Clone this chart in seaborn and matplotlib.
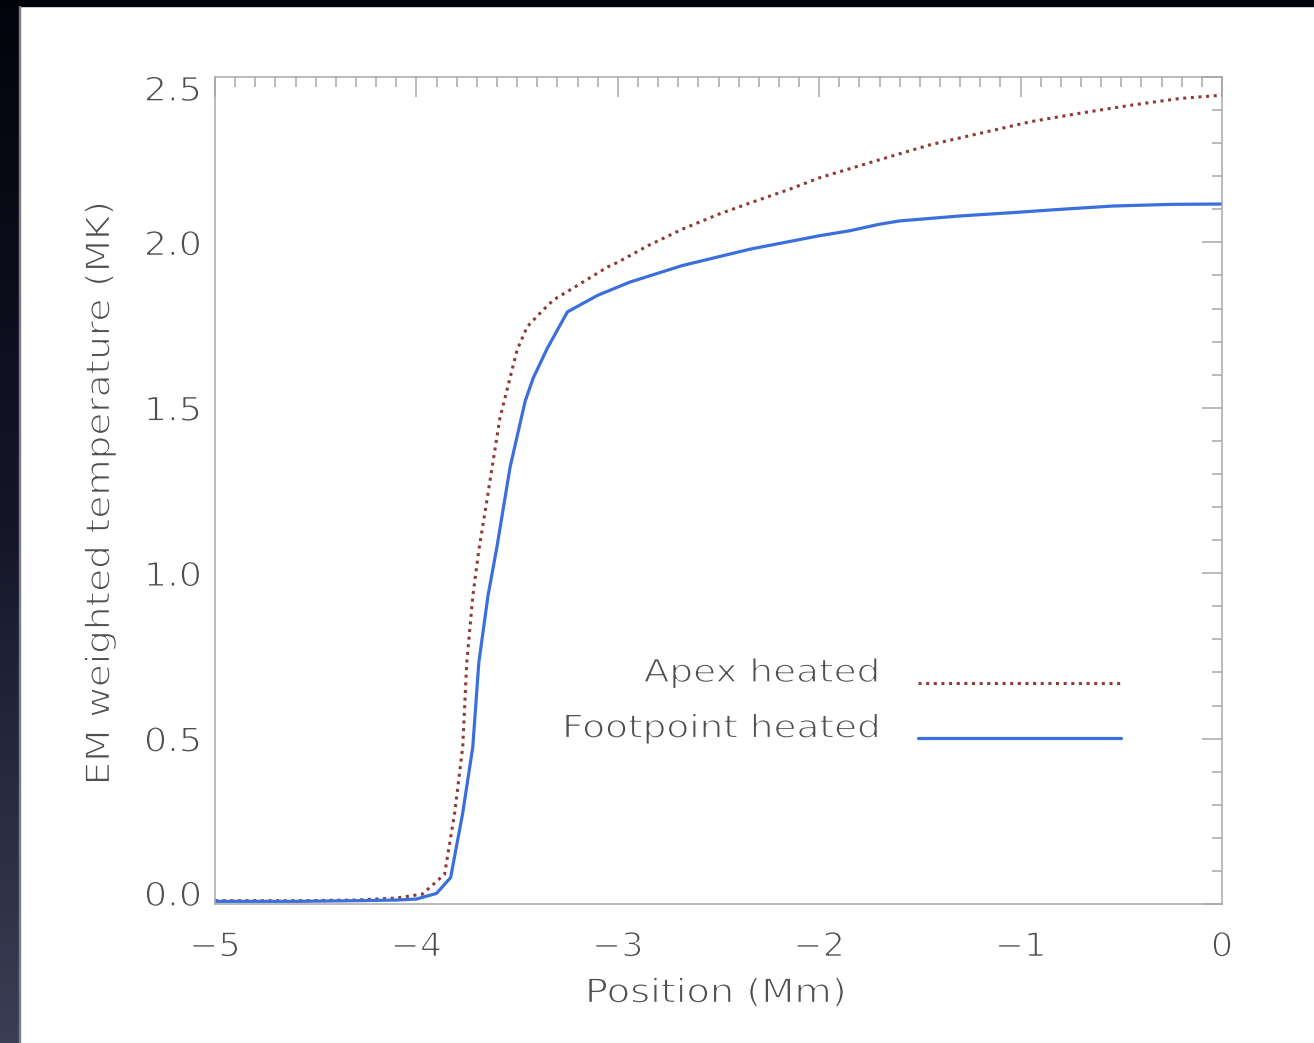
import numpy as np
import pandas as pd
import matplotlib
matplotlib.use("Agg")
import matplotlib.pyplot as plt
import seaborn as sns
from matplotlib.transforms import ScaledTranslation, Affine2D
from matplotlib.lines import Line2D
from matplotlib.patheffects import AbstractPathEffect
from matplotlib.legend_handler import HandlerLine2D

# ---- data ----
pos_apex = [-5.0, -4.6, -4.3, -4.1, -3.97, -3.86, -3.81, -3.77, -3.75, -3.72,
            -3.69, -3.65, -3.585, -3.50, -3.45, -3.38, -3.32, -3.2, -3.05, -3.0,
            -2.85, -2.68, -2.5, -2.34, -2.15, -2.0, -1.7, -1.45, -1.2, -0.95,
            -0.71, -0.45, -0.21, 0.0]
temp_apex = [0.01, 0.01, 0.012, 0.018, 0.03, 0.09, 0.275, 0.475, 0.73, 0.93,
             1.07, 1.22, 1.47, 1.675, 1.745, 1.79, 1.826, 1.87, 1.926, 1.94,
             1.99, 2.04, 2.085, 2.12, 2.16, 2.195, 2.25, 2.295, 2.33, 2.365,
             2.39, 2.415, 2.435, 2.445]

pos_foot = [-5.0, -4.6, -4.3, -4.1, -4.0, -3.9, -3.83, -3.77, -3.72, -3.69,
            -3.645, -3.6, -3.535, -3.46, -3.42, -3.35, -3.25, -3.1, -2.94, -2.68,
            -2.34, -2.0, -1.85, -1.70, -1.6, -1.5, -1.3, -1.04, -0.8, -0.54,
            -0.25, 0.0]
temp_foot = [0.008, 0.008, 0.01, 0.012, 0.015, 0.032, 0.08, 0.275, 0.475, 0.73,
             0.93, 1.08, 1.32, 1.52, 1.59, 1.68, 1.79, 1.84, 1.88, 1.93,
             1.98, 2.02, 2.035, 2.055, 2.065, 2.07, 2.08, 2.09, 2.10, 2.11,
             2.115, 2.116]

series_names = ["Apex heated", "Footpoint heated"]
x_ticks = [-5, -4, -3, -2, -1, 0]
x_ticklabels = ["\u22125", "\u22124", "\u22123", "\u22122", "\u22121", "0"]
y_ticks = [0.0, 0.5, 1.0, 1.5, 2.0, 2.5]
y_ticklabels = ["0.0", "0.5", "1.0", "1.5", "2.0", "2.5"]
x_label = "Position (Mm)"
y_label = "EM weighted temperature (MK)"

df_apex = pd.DataFrame({"pos": pos_apex, "temp": temp_apex})
df_foot = pd.DataFrame({"pos": pos_foot, "temp": temp_foot})


# ---- text effect: wider, thinner glyphs (mimic IDL vector font) ----
class ThinWide(AbstractPathEffect):
    def __init__(self, sx=1.12, erode=1.0, anchor="center"):
        super().__init__()
        self.sx = sx
        self.erode = erode
        self.anchor = anchor

    def draw_path(self, renderer, gc, tpath, affine, rgbFace=None):
        ext = tpath.get_extents()
        if self.anchor == "right":
            cx = ext.x1
        else:
            cx = 0.5 * (ext.x0 + ext.x1)
        pre = Affine2D().translate(-cx, 0).scale(self.sx, 1).translate(cx, 0)
        aff = pre + affine
        renderer.draw_path(gc, tpath, aff, rgbFace)
        gc0 = renderer.new_gc()
        gc0.copy_properties(gc)
        gc0.set_foreground("white")
        gc0.set_linewidth(self.erode)
        renderer.draw_path(gc0, tpath, aff, None)
        gc0.restore()


class LowLineHandler(HandlerLine2D):
    def __init__(self, shift=0.37, **kw):
        super().__init__(**kw)
        self.shift = shift

    def create_artists(self, legend, orig_handle, xdescent, ydescent, width,
                       height, fontsize, trans):
        arts = super().create_artists(legend, orig_handle, xdescent, ydescent,
                                      width, height, fontsize, trans)
        for a in arts:
            if isinstance(a, Line2D):
                a.set_ydata(np.asarray(a.get_ydata(), dtype=float) - self.shift * fontsize)
        return arts


# ---- style ----
sns.set_style("white")
plt.rcParams["font.family"] = ["DejaVu Sans"]
text_color = "#505050"
axis_color = "#a8a8a8"
apex_color = "#8e3b36"
foot_color = "#3b6fdc"
dot_style = (0, (1, 1.5))

W, H = 1314, 1043
fig = plt.figure(figsize=(W / 100, H / 100), dpi=100, facecolor="white")

# slide-like dark margins
bg = fig.add_axes([0, 0, 20 / W, 1])
grad = np.linspace(0, 1, 256).reshape(-1, 1)
cmap = matplotlib.colors.LinearSegmentedColormap.from_list("g", ["#03030c", "#141628", "#3b3e54"])
bg.imshow(grad, aspect="auto", cmap=cmap, extent=[0, 1, 0, 1], origin="upper")
bg.set_axis_off()
fig.patches.append(matplotlib.patches.Rectangle((0, 1 - 6 / H), 1, 6 / H,
                   transform=fig.transFigure, color="#02020a", zorder=5))
fig.patches.append(matplotlib.patches.Rectangle((19 / W, 0), 1.2 / W, 1 - 6 / H,
                   transform=fig.transFigure, color="#7a7c88", zorder=5))

ax = fig.add_axes([215 / W, (H - 904) / H, 1007 / W, 827 / H])

sns.lineplot(data=df_apex, x="pos", y="temp", ax=ax, color=apex_color,
             linewidth=2.2, estimator=None, sort=False)
ax.lines[-1].set_linestyle(dot_style)
sns.lineplot(data=df_foot, x="pos", y="temp", ax=ax, color=foot_color,
             linewidth=2.3, estimator=None, sort=False)

ax.set_xlim(-5, 0)
ax.set_ylim(0, 2.5)
ax.set_xticks(x_ticks)
ax.set_xticklabels(x_ticklabels)
ax.set_yticks(y_ticks)
ax.set_yticklabels(y_ticklabels)
ax.xaxis.set_minor_locator(matplotlib.ticker.MultipleLocator(0.1))
ax.yaxis.set_minor_locator(matplotlib.ticker.MultipleLocator(0.1))
ax.tick_params(which="both", direction="in", top=True, right=True,
               color=axis_color, width=1.1)
ax.tick_params(which="major", length=14.5)
ax.tick_params(which="minor", length=7.5)
ax.tick_params(axis="x", which="major", pad=19, labelsize=24, labelcolor=text_color)
ax.tick_params(axis="y", which="major", pad=11, labelsize=24, labelcolor=text_color)
for s in ax.spines.values():
    s.set_color(axis_color)
    s.set_linewidth(1.1)

ax.set_xlabel(x_label, fontsize=24, color=text_color, va="center")
ax.xaxis.set_label_coords((716 - 215) / 1007, (904 - 993) / 827)
ax.set_ylabel(y_label, fontsize=24, color=text_color, va="center")
ax.yaxis.set_label_coords((100 - 215) / 1007, (904 - 493) / 827)

handles = [Line2D([], [], color=apex_color, linewidth=2.2, linestyle=dot_style),
           Line2D([], [], color=foot_color, linewidth=2.3)]
leg = ax.legend(handles, series_names, markerfirst=False, frameon=False,
                loc="upper right", bbox_to_anchor=((1121 - 215) / 1007, (904 - 658) / 827),
                fontsize=23, handlelength=6.35, handletextpad=1.19,
                labelspacing=0.77, borderpad=0, borderaxespad=0,
                handler_map={Line2D: LowLineHandler(shift=0.37)})
for t in leg.get_texts():
    t.set_color(text_color)
    t.set_path_effects([ThinWide(sx=1.17, erode=1.0, anchor="right")])

ax.xaxis.label.set_path_effects([ThinWide(sx=1.15, erode=1.0)])
ax.yaxis.label.set_path_effects([ThinWide(sx=1.12, erode=1.0)])

fig.canvas.draw()
for lab in ax.get_xticklabels():
    lab.set_path_effects([ThinWide(sx=1.05, erode=1.0)])
labs = ax.get_yticklabels()
for lab in labs:
    lab.set_path_effects([ThinWide(sx=1.1, erode=1.0)])
labs[0].set_transform(labs[0].get_transform() + ScaledTranslation(0, 11 / 100, fig.dpi_scale_trans))
labs[-1].set_transform(labs[-1].get_transform() + ScaledTranslation(0, -11 / 100, fig.dpi_scale_trans))

fig.savefig("out.png", dpi=100, facecolor="white")
